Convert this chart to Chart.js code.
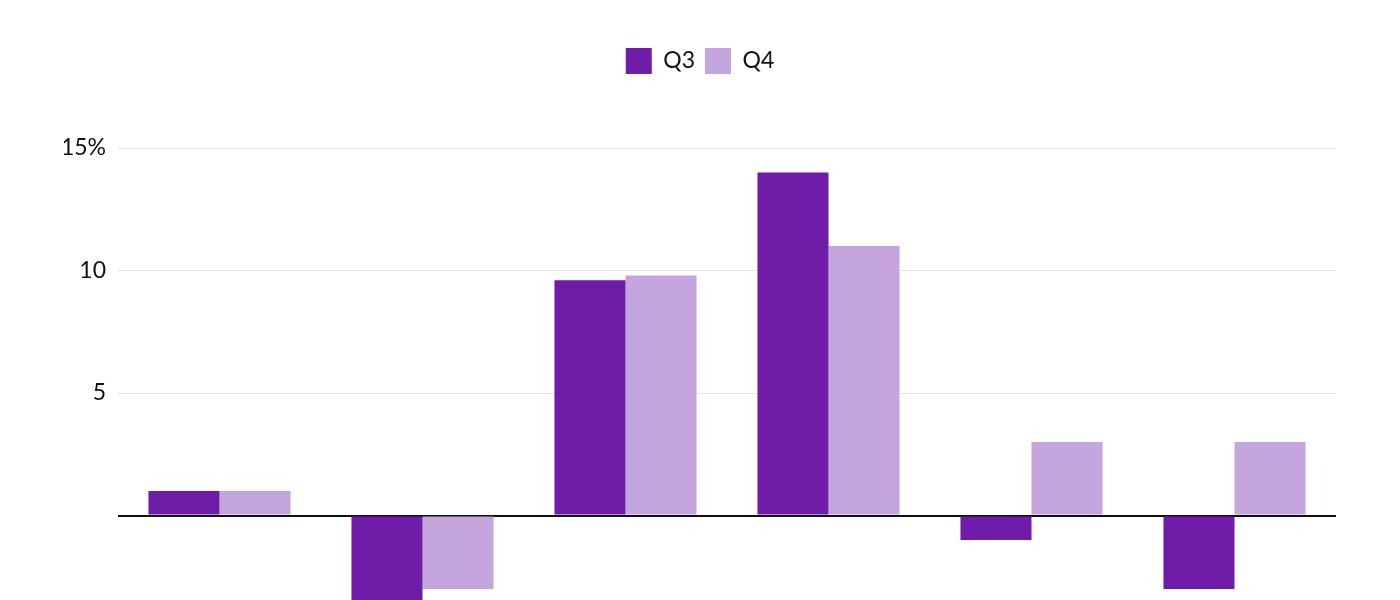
<!DOCTYPE html>
<html>
<head>
<meta charset="utf-8">
<script src="https://cdn.jsdelivr.net/npm/chart.js@4"></script>
<style>
  html, body { margin: 0; padding: 0; background: #ffffff; overflow: hidden; }
  #wrap { width: 1400px; height: 700px; }
</style>
</head>
<body>
<div id="wrap"><canvas id="myChart"></canvas></div>
<script>
'use strict';

//Chart data
let categories = ['A', 'B', 'C', 'D', 'E', 'F'];
let q3Values = [1, -4, 9.6, 14, -1, -3];
let q4Values = [1, -3, 9.8, 11, 3, 3];
let yTicks = [-5, 0, 5, 10, 15];

let fontFamily = 'Lato, "Open Sans", sans-serif';

// pushes the plot down below the legend
let legendGap = {
  id: 'legendGap',
  beforeInit(chart) {
    let fit = chart.legend.fit;
    chart.legend.fit = function () {
      fit.bind(chart.legend)();
      this.height += 64;
    };
  }
};

let ctx = document.getElementById('myChart').getContext('2d');
let myChart = new Chart(ctx, { // eslint-disable-line
  type: 'bar',
  data: {
    labels: categories,
    datasets: [{
      label: 'Q3',
      data: q3Values,
      backgroundColor: '#6f1ca8',
      categoryPercentage: 0.7,
      barPercentage: 1.0
    },
    {
      label: 'Q4',
      data: q4Values,
      backgroundColor: '#c5a5de',
      categoryPercentage: 0.7,
      barPercentage: 1.0
    }]
  },
  options: {
    responsive: true,
    maintainAspectRatio: false,
    animation: false,
    layout: {
      padding: { top: 38, right: 64, bottom: 22, left: 64 }
    },
    plugins: {
      legend: {
        position: 'top',
        labels: {
          boxWidth: 26,
          boxHeight: 26,
          padding: 10,
          color: '#111',
          font: { family: fontFamily, size: 23 }
        }
      },
      tooltip: { enabled: false }
    },
    scales: {
      x: {
        grid: { display: false },
        border: { display: false },
        ticks: { color: '#111', font: { family: fontFamily, size: 22 } },
        afterFit(scale) { scale.height = 40; }
      },
      y: {
        min: -5,
        max: 15,
        afterBuildTicks(scale) {
          scale.ticks = yTicks.map(v => ({ value: v }));
        },
        border: { display: false },
        grid: {
          drawTicks: false,
          color: c => (c.tick && c.tick.value === 0) ? '#111' : '#e4e4e4',
          lineWidth: c => (c.tick && c.tick.value === 0) ? 2 : 1
        },
        ticks: {
          padding: 12,
          color: '#111',
          font: { family: fontFamily, size: 23 },
          callback: v => v === 15 ? '15%' : (v === 0 ? '' : String(v))
        },
        afterFit(scale) { scale.width = 54; }
      }
    }
  },
  plugins: [legendGap]
});
</script>
</body>
</html>
